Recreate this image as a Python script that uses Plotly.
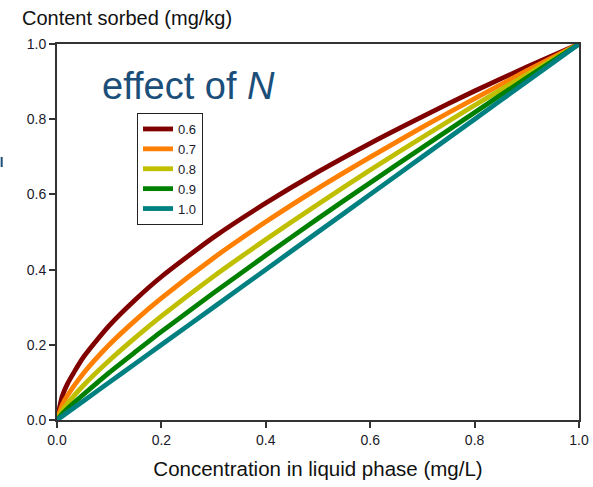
import plotly.graph_objects as go

# Liquid-phase concentration (mg/L)
conc = [0.0, 0.01, 0.02, 0.05, 0.10, 0.15, 0.20, 0.30, 0.40, 0.50, 0.60, 0.70, 0.80, 0.90, 1.0]

# Sorbed content (mg/kg) for each Freundlich exponent N
n_labels = ["0.6", "0.7", "0.8", "0.9", "1.0"]
sorbed_06 = [0.0, 0.063, 0.096, 0.166, 0.251, 0.320, 0.381, 0.486, 0.577, 0.660, 0.736, 0.807, 0.875, 0.939, 1.0]
sorbed_07 = [0.0, 0.040, 0.065, 0.123, 0.200, 0.265, 0.324, 0.431, 0.527, 0.616, 0.699, 0.779, 0.855, 0.929, 1.0]
sorbed_08 = [0.0, 0.025, 0.044, 0.091, 0.158, 0.219, 0.276, 0.382, 0.480, 0.574, 0.665, 0.752, 0.837, 0.919, 1.0]
sorbed_09 = [0.0, 0.016, 0.030, 0.067, 0.126, 0.181, 0.235, 0.338, 0.438, 0.536, 0.631, 0.725, 0.818, 0.910, 1.0]
sorbed_10 = [0.0, 0.010, 0.020, 0.050, 0.100, 0.150, 0.200, 0.300, 0.400, 0.500, 0.600, 0.700, 0.800, 0.900, 1.0]
series = [sorbed_06, sorbed_07, sorbed_08, sorbed_09, sorbed_10]
colors = ["#800000", "#FF8000", "#BFBF00", "#008000", "#008080"]

tick_vals = [0.0, 0.2, 0.4, 0.6, 0.8, 1.0]
tick_text = ["0.0", "0.2", "0.4", "0.6", "0.8", "1.0"]

fig = go.Figure()
for lab, ys, col in zip(n_labels, series, colors):
    fig.add_trace(go.Scatter(
        x=conc, y=ys, name=lab, mode="lines",
        line=dict(color=col, width=4.8, shape="spline", smoothing=0.6),
    ))

axis_common = dict(
    range=[0, 1], tickvals=tick_vals, ticktext=tick_text,
    showgrid=False, zeroline=False, automargin=False,
    showline=True, linecolor="#333333", linewidth=1.8, mirror=True,
    ticks="outside", ticklen=6, tickcolor="#333333", tickwidth=1.5,
    tickfont=dict(family="Arial, Liberation Sans", size=14, color="#1a1a2a"),
)

fig.update_layout(
    width=593, height=487,
    margin=dict(l=57, r=14, t=44, b=67),
    paper_bgcolor="white", plot_bgcolor="white",
    xaxis=dict(**axis_common,
               title=dict(text="Concentration in liquid phase (mg/L)",
                          font=dict(family="Arial, Liberation Sans", size=20.5, color="#111111"),
                          standoff=15)),
    yaxis=dict(**axis_common),
    legend=dict(
        x=(137 - 57) / 522, y=(420 - 113) / 376, xanchor="left", yanchor="top",
        bgcolor="white", bordercolor="#222222", borderwidth=1,
        font=dict(family="Arial, Liberation Sans", size=13, color="#1a1a2a"),
        tracegroupgap=0, itemwidth=30,
    ),
    annotations=[
        dict(text="Content sorbed (mg/kg)", xref="paper", yref="paper",
             x=(20 - 57) / 522, y=(420 - 5) / 376, xanchor="left", yanchor="top", showarrow=False,
             font=dict(family="Arial, Liberation Sans", size=20, color="#111111")),
        dict(text="effect of <i>N</i>", xref="paper", yref="paper",
             x=(100 - 57) / 522, y=(420 - 63) / 376, xanchor="left", yanchor="top",
             showarrow=False,
             font=dict(family="Liberation Sans Narrow, Arial Narrow, Liberation Sans", size=38, color="#1b4f7a")),
    ],
    shapes=[
        dict(type="line", xref="paper", yref="paper",
             x0=-0.106, x1=-0.106, y0=(420 - 157) / 376, y1=(420 - 167) / 376,
             line=dict(color="#1b4f7a", width=2)),
    ],
    showlegend=True,
)

fig.write_html("out.html")
